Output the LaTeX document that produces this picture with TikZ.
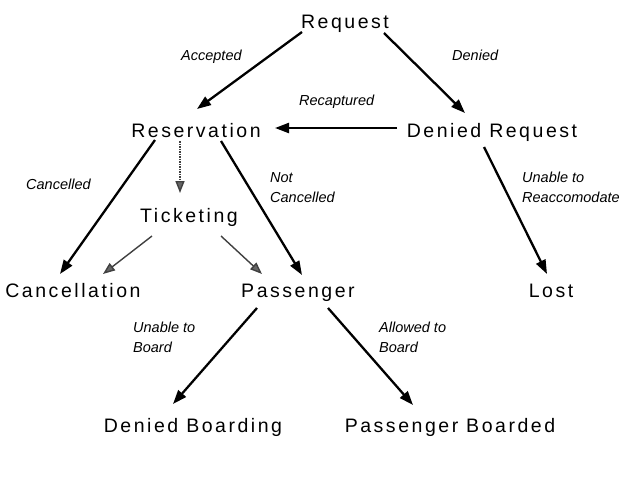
\documentclass[tikz,border=0pt]{standalone}
\usepackage{fontspec}
\setmainfont{Liberation Sans}
\newfontfamily\statefont{Liberation Sans}[LetterSpace=13]
\usetikzlibrary{arrows.meta}
\begin{document}
\begin{tikzpicture}[x=1pt,y=-1pt,
  state/.style={anchor=base,inner sep=0pt,font=\statefont\fontsize{19.5}{23}\selectfont},
  lbl/.style={anchor=north west,inner sep=0pt,align=left,font=\itshape\fontsize{14.5}{20}\selectfont},
  arr/.style={line width=2.3pt,-{Triangle[length=14pt,width=10pt]}},
  garr/.style={line width=1.4pt,draw=black!75,-{Triangle[length=12pt,width=9pt,fill=black!60]}},
  darr/.style={garr,dash pattern=on 1.5pt off 1pt}]
\useasboundingbox (0,0) rectangle (633,479);
\node[state] (req) at (345,28) {Request};
\node[state] (res) at (196,137) {Reservation};
\node[state] (dr) at (492,137) {Denied Request};
\node[state] (tick) at (189,222) {Ticketing};
\node[state] (canc) at (73,297) {Cancellation};
\node[state] (pass) at (298,297) {Passenger};
\node[state] (lost) at (551,297) {Lost};
\node[state] (db) at (193,432) {Denied Boarding};
\node[state] (pb) at (450,432) {Passenger Boarded};

\draw[arr] ([shift={(-43,4)}]req.base) -- ([shift={(1,-28)}]res.base);
\draw[arr] ([shift={(39,5)}]req.base) -- ([shift={(-27,-24)}]dr.base);
\draw[arr] ([shift={(-95,-9)}]dr.base) -- ([shift={(79,-9)}]res.base);
\draw[arr] ([shift={(-41,3)}]res.base) -- ([shift={(-13,-23)}]canc.base);
\draw[darr] ([shift={(-16,4)}]res.base) -- ([shift={(-9,-29)}]tick.base);
\draw[arr] ([shift={(25,4)}]res.base) -- ([shift={(4,-22)}]pass.base);
\draw[garr] ([shift={(-37,14)}]tick.base) -- ([shift={(30,-23)}]canc.base);
\draw[garr] ([shift={(32,14)}]tick.base) -- ([shift={(-36,-23)}]pass.base);
\draw[arr] ([shift={(-8,10)}]dr.base) -- ([shift={(-4,-23)}]lost.base);
\draw[arr] ([shift={(-41,11)}]pass.base) -- ([shift={(-20,-28)}]db.base);
\draw[arr] ([shift={(30,11)}]pass.base) -- ([shift={(-37,-27)}]pb.base);

\node[lbl] (l1) at (181,50) {Accepted};
\node[lbl] (l2) at (452,50) {Denied};
\node[lbl] (l3) at (299,95) {Recaptured};
\node[lbl] (l4) at (26,179) {Cancelled};
\node[lbl] (l5) at (270,172) {Not\\Cancelled};
\node[lbl] (l6) at (522,172) {Unable to\\Reaccomodate};
\node[lbl] (l7) at (133,322) {Unable to\\Board};
\node[lbl] (l8) at (379,322) {Allowed to\\Board};
\end{tikzpicture}
\end{document}
